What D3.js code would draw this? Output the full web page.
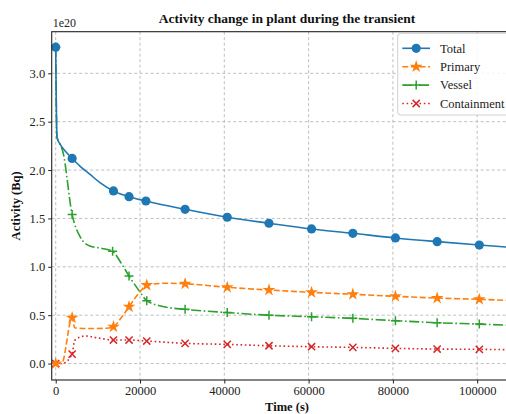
<!DOCTYPE html>
<html>
<head>
<meta charset="utf-8">
<script src="https://cdn.jsdelivr.net/npm/d3@7"></script>
<style>
    body { margin: 0; background: #fff; }
    text { font-family: "Liberation Serif", "Times New Roman", "DejaVu Serif", serif; }
</style>
</head>
<body>
<div id="chart"></div>
<script>
// data (activity in units of 1e20 Bq)
var totalT = [0, 300, 1000, 2000, 3000, 3900, 6000, 8000, 10500, 13700, 17400, 21400, 30700, 40700, 50600, 60700, 70500, 80600, 90500, 100500, 110000];
var totalV = [3.27, 2.34, 2.27, 2.21, 2.16, 2.12, 2.03, 1.96, 1.87, 1.784, 1.725, 1.68, 1.594, 1.512, 1.45, 1.391, 1.346, 1.298, 1.26, 1.225, 1.195];
var totalMarks = [0, 5, 9, 10, 11, 12, 13, 14, 15, 16, 17, 18, 19];

var primaryT = [0, 1400, 3900, 4500, 8000, 12000, 13700, 15500, 17400, 20000, 21600, 26000, 30700, 40700, 50600, 60700, 70500, 80600, 90500, 100500, 110000];
var primaryV = [0, 0, 0.474, 0.37, 0.362, 0.365, 0.38, 0.47, 0.587, 0.743, 0.81, 0.83, 0.825, 0.788, 0.76, 0.736, 0.716, 0.695, 0.677, 0.664, 0.648];
var primaryMarks = [0, 2, 6, 8, 10, 12, 13, 14, 15, 16, 17, 18, 19];

var vesselT = [0, 300, 1000, 1700, 3900, 5800, 8100, 11000, 13500, 15500, 17400, 20000, 21600, 26000, 30700, 40700, 50600, 60700, 70500, 80600, 90500, 100500, 110000];
var vesselV = [3.27, 2.34, 2.27, 2.19, 1.54, 1.31, 1.215, 1.19, 1.16, 1.04, 0.905, 0.74, 0.65, 0.585, 0.56, 0.527, 0.50, 0.484, 0.467, 0.443, 0.422, 0.408, 0.392];
var vesselMarks = [0, 4, 8, 10, 12, 14, 15, 16, 17, 18, 19, 20, 21];

var contT = [0, 1500, 3900, 4500, 7000, 10000, 13700, 17400, 21600, 30700, 40700, 50600, 60700, 70500, 80600, 90500, 100500, 110000];
var contV = [0, 0, 0.098, 0.24, 0.285, 0.265, 0.243, 0.243, 0.233, 0.209, 0.198, 0.184, 0.174, 0.167, 0.157, 0.15, 0.147, 0.142];
var contMarks = [0, 2, 6, 7, 8, 9, 10, 11, 12, 13, 14, 15, 16];

var xTicks = [0, 20000, 40000, 60000, 80000, 100000];
var yTicks = [0, 0.5, 1.0, 1.5, 2.0, 2.5, 3.0];
var seriesNames = ["Total", "Primary", "Vessel", "Containment"];

var width = 506, height = 414;
// plot box (right edge runs past the window, like the reference crop)
var boxL = 51.7, boxT = 31.7, boxR = 522.3, boxB = 380;

var svg = d3.select("#chart").append("svg")
    .attr("width", width)
    .attr("height", height);

var x = d3.scaleLinear().domain([-950, 110700]).range([boxL, boxR]);
var y = d3.scaleLinear().domain([-0.17, 3.43]).range([boxB, boxT]);

// clip for the plotting area
svg.append("clipPath").attr("id", "plotclip")
    .append("rect")
    .attr("x", boxL).attr("y", boxT)
    .attr("width", boxR - boxL).attr("height", boxB - boxT);

// grid
var grid = svg.append("g").attr("class", "grid");
grid.selectAll(".gx").data(xTicks).enter().append("line")
    .attr("x1", function (d) { return x(d); })
    .attr("x2", function (d) { return x(d); })
    .attr("y1", boxT).attr("y2", boxB)
    .style("stroke", "#b8b8b8").style("stroke-width", 0.9)
    .style("stroke-dasharray", "3,2.5");
grid.selectAll(".gy").data(yTicks).enter().append("line")
    .attr("y1", function (d) { return y(d); })
    .attr("y2", function (d) { return y(d); })
    .attr("x1", boxL).attr("x2", boxR)
    .style("stroke", "#b8b8b8").style("stroke-width", 0.9)
    .style("stroke-dasharray", "3,2.5");

// series definitions
var series = [
    { name: seriesNames[0], t: totalT, v: totalV, marks: totalMarks, color: "#1f77b4", dash: null, marker: "circle" },
    { name: seriesNames[1], t: primaryT, v: primaryV, marks: primaryMarks, color: "#ff7f0e", dash: "6,2.6", marker: "star" },
    { name: seriesNames[2], t: vesselT, v: vesselV, marks: vesselMarks, color: "#2ca02c", dash: "10,2.6,1.6,2.6", marker: "plus" },
    { name: seriesNames[3], t: contT, v: contV, marks: contMarks, color: "#d62728", dash: "1.6,2.7", marker: "x" }
];

var line = d3.line()
    .x(function (d) { return x(d[0]); })
    .y(function (d) { return y(d[1]); })
    .curve(d3.curveMonotoneX);

function drawMarker(g, type, color) {
    if (type === "circle") {
        g.append("circle").attr("r", 4.6).style("fill", color);
    } else if (type === "star") {
        g.append("path").attr("d", d3.symbol().type(d3.symbolStar).size(50)())
            .style("fill", color);
    } else if (type === "plus") {
        g.append("path").attr("d", "M-4.5,0H4.5M0,-4.5V4.5")
            .style("stroke", color).style("stroke-width", 1.5);
    } else {
        g.append("path").attr("d", "M-3.6,-3.6L3.6,3.6M-3.6,3.6L3.6,-3.6")
            .style("stroke", color).style("stroke-width", 1.5);
    }
}

var plot = svg.append("g").attr("clip-path", "url(#plotclip)");

// draw back to front: containment first, total last
series.slice().reverse().forEach(function (s) {
    var pts = s.t.map(function (t, i) { return [t, s.v[i]]; });
    plot.append("path")
        .datum(pts)
        .attr("d", line)
        .style("fill", "none")
        .style("stroke", s.color)
        .style("stroke-width", 1.6)
        .style("stroke-dasharray", s.dash);
    s.marks.forEach(function (i) {
        var g = plot.append("g")
            .attr("transform", "translate(" + x(pts[i][0]) + "," + y(pts[i][1]) + ")");
        drawMarker(g, s.marker, s.color);
    });
});

// axes
var xAxis = svg.append("g")
    .attr("transform", "translate(0," + boxB + ")")
    .call(d3.axisBottom(x).tickValues(xTicks).tickSize(3.5).tickPadding(3).tickFormat(d3.format("d")));
var yAxis = svg.append("g")
    .attr("transform", "translate(" + boxL + ",0)")
    .call(d3.axisLeft(y).tickValues(yTicks).tickSize(3.5).tickPadding(3).tickFormat(d3.format(".1f")));
[xAxis, yAxis].forEach(function (a) {
    a.select(".domain").remove();
    a.selectAll("line").style("stroke", "#222");
    a.selectAll("text").style("font-size", "12.5px").style("fill", "#222")
        .style("font-family", "'Liberation Serif', 'Times New Roman', serif");
});

// frame
svg.append("rect")
    .attr("x", boxL).attr("y", boxT)
    .attr("width", boxR - boxL).attr("height", boxB - boxT)
    .style("fill", "none").style("stroke", "#222").style("stroke-width", 1.1);

// offset text
svg.append("text").attr("x", boxL + 1).attr("y", 27)
    .style("font-size", "12px").style("fill", "#222").text("1e20");

// title and labels
svg.append("text").attr("x", (boxL + boxR) / 2).attr("y", 23)
    .attr("text-anchor", "middle")
    .style("font-size", "13.5px").style("font-weight", "bold").style("fill", "#111")
    .text("Activity change in plant during the transient");
svg.append("text").attr("x", (boxL + boxR) / 2).attr("y", 411)
    .attr("text-anchor", "middle")
    .style("font-size", "12.5px").style("font-weight", "bold").style("fill", "#111")
    .text("Time (s)");
svg.append("text")
    .attr("transform", "translate(20," + ((boxT + boxB) / 2) + ") rotate(-90)")
    .attr("text-anchor", "middle")
    .style("font-size", "12.5px").style("font-weight", "bold").style("fill", "#111")
    .text("Activity (Bq)");

// legend
var legend = svg.append("g").attr("class", "legend")
    .attr("transform", "translate(397.7,33.3)");
legend.append("rect")
    .attr("width", 150).attr("height", 81.7)
    .attr("rx", 3)
    .style("fill", "#fff").style("fill-opacity", 0.85)
    .style("stroke", "#d0d0d0").style("stroke-width", 1);
series.forEach(function (s, i) {
    var row = legend.append("g")
        .attr("transform", "translate(0," + (15 + i * 18.4) + ")");
    row.append("line")
        .attr("x1", 4.6).attr("x2", 32.3)
        .style("stroke", s.color).style("stroke-width", 1.6)
        .style("stroke-dasharray", s.dash);
    var m = row.append("g").attr("transform", "translate(18.5,0)");
    drawMarker(m, s.marker, s.color);
    row.append("text")
        .attr("x", 42.3).attr("y", 4.3)
        .style("font-size", "12.5px").style("fill", "#222")
        .text(s.name);
});
</script>
</body>
</html>
